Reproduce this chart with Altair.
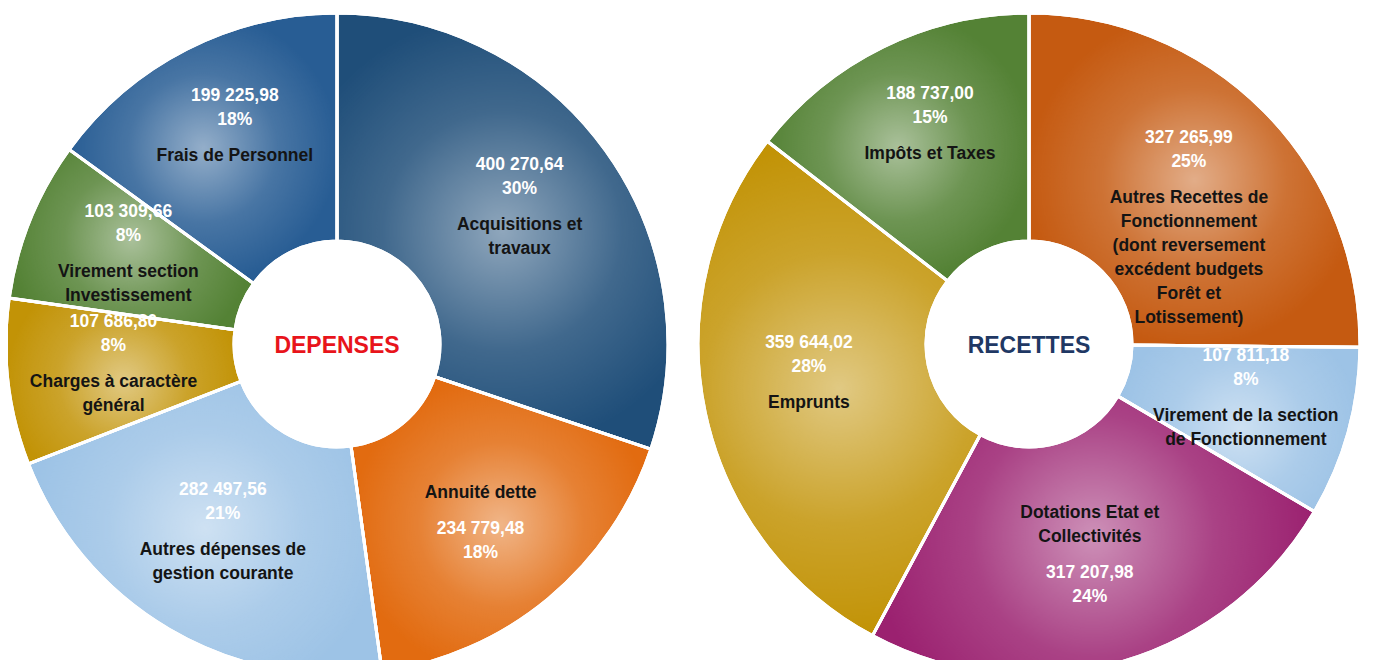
import altair as alt
import pandas as pd

# ---------------- DATA ----------------
dep_names = [
    "Acquisitions et\ntravaux",
    "Annuité dette",
    "Autres dépenses de\ngestion courante",
    "Charges à caractère\ngénéral",
    "Virement section\nInvestissement",
    "Frais de Personnel",
]
dep_values = [400270.64, 234779.48, 282497.56, 107686.80, 103309.66, 199225.98]
dep_pct = ["30%", "18%", "21%", "8%", "8%", "18%"]
dep_colors = ["#1F4E79", "#E26B10", "#9DC3E6", "#C29306", "#548235", "#285D94"]

rec_names = [
    "Autres Recettes de\nFonctionnement\n(dont reversement\nexcédent budgets\nForêt et\nLotissement)",
    "Virement de la section\nde Fonctionnement",
    "Dotations Etat et\nCollectivités",
    "Emprunts",
    "Impôts et Taxes",
]
rec_values = [327265.99, 107811.18, 317207.98, 359644.02, 188737.00]
rec_pct = ["25%", "8%", "24%", "28%", "15%"]
rec_colors = ["#C55A11", "#9DC3E6", "#9B2170", "#C29306", "#548235"]

FONT = "Liberation Sans"
R_OUT, R_IN, R_LABEL = 331, 103, 225
# vertical offsets of the text lines of one slice label, relative to its anchor
SLOTS = [-48, -24, 12, 36, 60, 84, 108, 132]


def fr(v):
    return f"{v:,.2f}".replace(",", " ").replace(".", ",")


def make_df(names, values, pcts):
    total = sum(values)
    rows, cum = [], 0.0
    for i, (n, v, p) in enumerate(zip(names, values, pcts)):
        mid = (cum + v / 2) / total
        cum += v
        name_lines = n.split("\n")
        w = [""] * len(SLOTS)
        d = [""] * len(SLOTS)
        if 0.35 < mid < 0.5:  # slice at the bottom right: name above value
            start = 2 - len(name_lines)
            for k, line in enumerate(name_lines):
                d[start + k] = line
            w[2], w[3] = fr(v), p
        else:
            w[0], w[1] = fr(v), p
            for k, line in enumerate(name_lines):
                d[2 + k] = line
        row = {"idx": i, "name": n, "value": v}
        for k in range(len(SLOTS)):
            row[f"w{k}"] = w[k]
            row[f"d{k}"] = d[k]
        rows.append(row)
    return pd.DataFrame(rows)


glow = alt.RadialGradient(
    gradient="radial",
    stops=[
        alt.GradientStop(color="rgba(255,255,255,0.5)", offset=0),
        alt.GradientStop(color="rgba(255,255,255,0.15)", offset=0.55),
        alt.GradientStop(color="rgba(255,255,255,0)", offset=1),
    ],
    x1=0.5, y1=0.5, r1=0, x2=0.5, y2=0.5, r2=0.5,
)


def donut(names, values, pcts, colors, cx, cy, title, title_color):
    df = make_df(names, values, pcts)
    base = alt.Chart(df).encode(
        theta=alt.Theta("value:Q", stack=True),
        order=alt.Order("idx:Q", sort="ascending"),
        x=alt.value(cx),
        y=alt.value(cy),
    )
    arcs = base.mark_arc(outerRadius=R_OUT, innerRadius=R_IN,
                         stroke="white", strokeWidth=3).encode(
        color=alt.Color("name:N", scale=alt.Scale(domain=names, range=colors), legend=None)
    )
    shine = base.mark_arc(outerRadius=R_OUT, innerRadius=R_IN, fill=glow,
                          stroke="white", strokeWidth=3)
    layers = [arcs, shine]
    for k, dy in enumerate(SLOTS):
        for prefix, col in (("w", "white"), ("d", "#141414")):
            layers.append(
                base.mark_text(radius=R_LABEL, dy=dy, font=FONT, fontSize=17.5,
                               fontWeight="bold", color=col,
                               align="center", baseline="middle")
                .encode(text=f"{prefix}{k}:N")
            )
    center = alt.Chart(pd.DataFrame({"t": [title]})).mark_text(
        font=FONT, fontSize=23, fontWeight="bold", color=title_color,
        align="center", baseline="middle"
    ).encode(text="t:N", x=alt.value(cx), y=alt.value(cy + 2))
    layers.append(center)
    return alt.layer(*layers)


left = donut(dep_names, dep_values, dep_pct, dep_colors, 329, 336, "DEPENSES", "#E8141B")
right = donut(rec_names, rec_values, rec_pct, rec_colors, 1021, 336, "RECETTES", "#1F3864")

chart = alt.layer(left, right).resolve_scale(
    theta="independent", color="independent"
).properties(
    width=1359, height=652, padding=0,
    autosize=alt.AutoSizeParams(type="none"),
    background="white",
).configure_view(stroke=None)

chart.save("out.html", embed_options={"renderer": "svg", "actions": False})
